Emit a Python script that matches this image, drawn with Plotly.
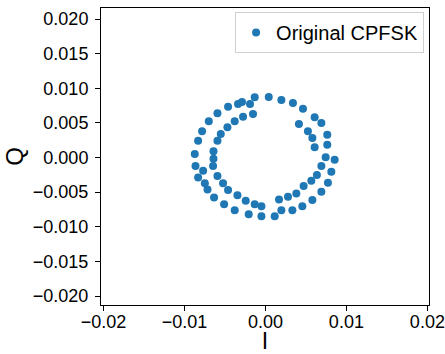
import plotly.graph_objects as go

# Outer ring samples (I, Q)
outer_i = [0.00041, 0.00197, 0.00340, 0.00464, 0.00608, 0.00691, 0.00764, 0.00764, 0.00855, 0.00814,
           0.00772, 0.00691, 0.00580, 0.00456, 0.00333, 0.00197, 0.00115, -0.00049, -0.00206, -0.00379,
           -0.00510, -0.00634, -0.00715, -0.00748, -0.00831, -0.00769, -0.00863, -0.00872, -0.00831, -0.00782,
           -0.00699, -0.00592, -0.00461, -0.00338, -0.00289, -0.00190, -0.00132]
outer_q = [0.00876, 0.00832, 0.00789, 0.00706, 0.00582, 0.00499, 0.00330, 0.00185, -0.00032, -0.00205,
           -0.00365, -0.00495, -0.00615, -0.00702, -0.00760, -0.00760, -0.00847, -0.00847, -0.00818, -0.00760,
           -0.00673, -0.00576, -0.00460, -0.00373, -0.00287, -0.00191, -0.00123, 0.00051, 0.00243, 0.00379,
           0.00524, 0.00640, 0.00735, 0.00774, 0.00803, 0.00774, 0.00871]

# Inner ring samples (I, Q)
inner_i = [-0.00153, -0.00276, -0.00379, -0.00469, -0.00551, -0.00592, -0.00641, -0.00641, -0.00646, -0.00592,
           -0.00523, -0.00461, -0.00345, -0.00243, -0.00132, -0.00049, 0.00168, 0.00279, 0.00382, 0.00472,
           0.00567, 0.00636, 0.00691, 0.00744, 0.00608, 0.00580, 0.00525, 0.00414]
inner_q = [0.00630, 0.00590, 0.00524, 0.00437, 0.00340, 0.00243, 0.00090, -0.00017, -0.00123, -0.00268,
           -0.00373, -0.00470, -0.00543, -0.00625, -0.00673, -0.00702, -0.00605, -0.00567, -0.00518, -0.00412,
           -0.00336, -0.00253, -0.00123, 0.00003, 0.00148, 0.00282, 0.00379, 0.00485]

i_vals = outer_i + inner_i
q_vals = outer_q + inner_q

x_ticks = [-0.02, -0.01, 0.0, 0.01, 0.02]
y_ticks = [-0.020, -0.015, -0.010, -0.005, 0.000, 0.005, 0.010, 0.015, 0.020]

fig = go.Figure()
fig.add_trace(go.Scatter(
    x=i_vals, y=q_vals, mode="markers", name="Original CPFSK",
    marker=dict(color="#1f77b4", size=8),
))

font = "Liberation Sans, Arial, sans-serif"
fig.update_layout(
    width=445, height=354,
    margin=dict(l=101, r=16, t=8, b=49),
    paper_bgcolor="white", plot_bgcolor="white",
    font=dict(family=font, size=18, color="black"),
    showlegend=True,
    legend=dict(x=0.985, y=0.9865, xanchor="right", yanchor="top",
                bgcolor="white", bordercolor="#d0d0d0", borderwidth=1,
                font=dict(size=20), tracegroupgap=0),
)
fig.update_xaxes(
    range=[-0.0203, 0.0202], tickvals=x_ticks, tickformat=".2f", automargin=False,
    ticks="outside", ticklen=5, tickcolor="black", showgrid=False, zeroline=False,
    showline=True, linecolor="black", linewidth=1, mirror=True,
    ticklabelstandoff=-5,
    title=dict(text="I", font=dict(size=23), standoff=20),
)
fig.update_yaxes(
    range=[-0.0213, 0.0216], tickvals=y_ticks, tickformat=".3f", automargin=False,
    ticks="outside", ticklen=5, tickcolor="black", showgrid=False, zeroline=False,
    showline=True, linecolor="black", linewidth=1, mirror=True,
    ticklabelstandoff=3,
    title=dict(text="Q", font=dict(size=24), standoff=2),
)

fig.write_html(
    "out.html",
    config={"displayModeBar": False},
    post_script="document.body.style.margin='0';document.body.style.overflow='hidden';",
)
